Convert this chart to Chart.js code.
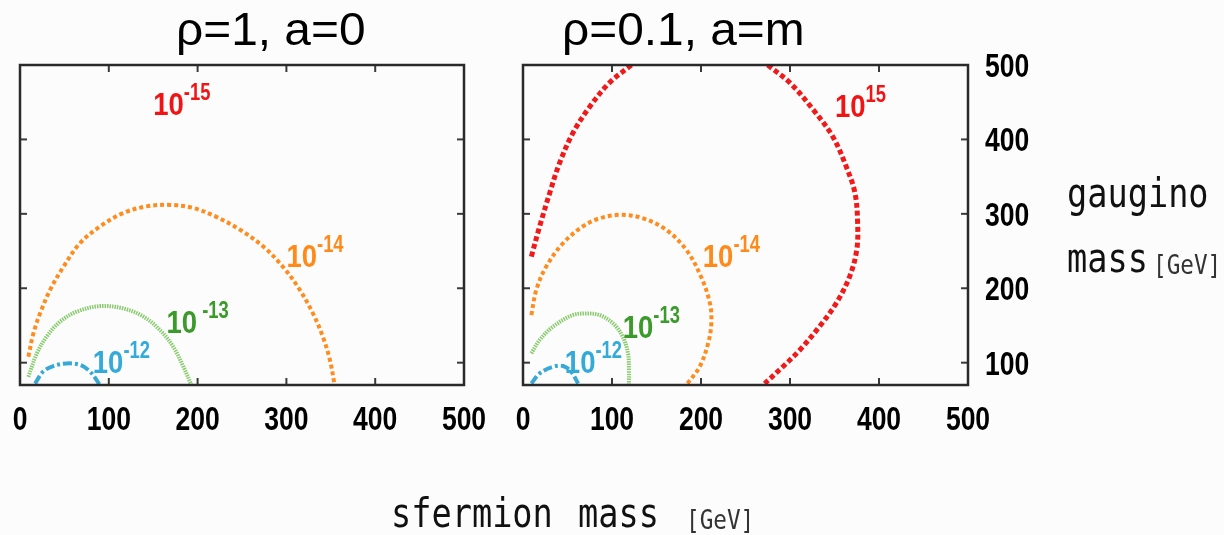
<!DOCTYPE html>
<html>
<head>
<meta charset="utf-8">
<script src="https://cdn.jsdelivr.net/npm/chart.js@4/dist/chart.umd.min.js"></script>
<style>
  html, body { margin:0; padding:0; background:#fcfcfc; width:1224px; height:535px; overflow:hidden; }
  .panel { position:absolute; top:0; height:535px; }
  .title { position:absolute; font-family:"Liberation Sans", Arial, sans-serif; font-size:46px; line-height:46px; color:#000; white-space:nowrap; transform-origin:0 0; }
  .mono { position:absolute; font-family:"DejaVu Sans Mono", monospace; font-size:40px; line-height:40px; color:#111; white-space:nowrap; transform-origin:0 0; transform:scaleX(0.84); }
  .unit { position:absolute; font-family:"DejaVu Sans Mono", monospace; font-size:27px; line-height:27px; color:#333; white-space:nowrap; transform-origin:0 0; transform:scaleX(0.84); }
</style>
</head>
<body>
<div class="panel" style="left:0;width:500px;"><canvas id="c1" width="500" height="535"></canvas></div>
<div class="panel" style="left:500px;width:724px;"><canvas id="c2" width="724" height="535"></canvas></div>
<div class="title" style="left:176px;top:6px;transform:scaleX(1.04);">ρ=1, a=0</div>
<div class="title" style="left:562px;top:6px;transform:scaleX(1.04);">ρ=0.1, a=m</div>
<div class="mono" style="left:1067px;top:173px;">gaugino</div>
<div class="mono" style="left:1067px;top:238px;">mass</div>
<div class="unit" style="left:1153px;top:251px;">[GeV]</div>
<div class="mono" style="left:391px;top:493px;">sfermion</div>
<div class="mono" style="left:578px;top:493px;">mass</div>
<div class="unit" style="left:686px;top:506px;">[GeV]</div>
<script>
// ---------- data ----------
const X_TICKS = [0, 100, 200, 300, 400, 500];
const Y_TICKS = [100, 200, 300, 400, 500];
const INNER_TICKS = [100, 200, 300, 400];

// Left panel: rho = 1, a = 0
const L14_X = [9.4, 15, 22.5, 34, 49, 67.5, 90, 116, 142.5, 169, 195, 221, 248, 274, 296, 315, 330, 341, 349, 354];
const L14_Y = [108, 139, 166, 198, 229, 260.5, 283, 301, 310, 312, 308, 296, 278.5, 256, 229, 198, 166, 135, 103.6, 72];
const L13_X = [9.4, 19, 30, 45, 64, 90, 116, 139, 157.5, 172.5, 184, 193];
const L13_Y = [81, 112.5, 135, 155, 168.6, 176, 173, 162, 144, 121.5, 94.6, 70];
const L12_X = [17, 26, 37.5, 52.5, 67.5, 79, 90];
const L12_Y = [72, 88, 95.5, 99, 97, 88, 70];

// Right panel: rho = 0.1, a = m
const R15A_X = [9.4, 18.7, 30, 41, 56, 75, 97, 122];
const R15A_Y = [242.6, 283, 328, 368, 408.5, 444, 476, 500];
const R15B_X = [275, 300, 326, 348, 363, 373, 376, 375, 367, 352, 333, 311, 292, 271.5];
const R15B_Y = [500, 476, 440, 404, 364, 328, 287.4, 251.6, 215.7, 180, 148.4, 117, 94.6, 72];
const R14_X = [9.4, 15, 26, 45, 67, 86, 110.5, 135, 161, 183.5, 200, 210, 211.6, 208, 198.5, 183.5];
const R14_Y = [164, 198, 229, 260.5, 283, 294, 298.7, 294, 278.5, 251.6, 215.7, 180, 153, 126, 94.6, 70];
const R13_X = [9.4, 18.7, 33.7, 56, 71, 86, 101, 112, 118, 119, 119];
const R13_Y = [112.5, 130.5, 148.4, 164, 166, 164, 153, 135, 112.5, 90, 70];
const R12_X = [9.4, 18.7, 33.7, 45, 54, 62];
const R12_Y = [72, 85.6, 94.6, 95.5, 88, 72];

// Contour labels: [mantissa, exponent, x, y, colour key] in data units
const LEFT_LABELS = [
  ['10', '-15', 150, 433, 'red'],
  ['10', '-14', 300, 229, 'orange'],
  ['10', ' -13', 165, 140, 'green'],
  ['10', '-12', 82, 86.6, 'cyan']
];
const RIGHT_LABELS = [
  ['10', '15', 350.5, 430, 'red'],
  ['10', '-14', 202, 229, 'orange'],
  ['10', '-13', 112, 133.5, 'green'],
  ['10', '-12', 47, 86.6, 'cyan']
];

// ---------- styles ----------
const LINE = {
  red:    { color:'#f01a1a', width:5, dash:[5,3] },
  orange: { color:'#ff8c1e', width:4, dash:[4,3] },
  green:  { color:'#8acb70', width:4, dash:[1.5,1] },
  cyan:   { color:'#38a9d6', width:4, dash:[9,3,3,3] }
};
const LABEL_COLOR = { red:'#f01414', orange:'#ff8a1a', green:'#3a9a2a', cyan:'#33aad8' };
const FONT = '"Liberation Sans", Arial, sans-serif';
const SQUEEZE = 0.78;
const LABEL_SQUEEZE = 0.86;

function pts(xs, ys) { return xs.map((x, i) => ({ x: x, y: ys[i] })); }
function ds(xs, ys, kind) {
  const s = LINE[kind];
  return { data: pts(xs, ys), showLine: true, pointRadius: 0, borderColor: s.color,
           borderWidth: s.width, borderDash: s.dash, borderCapStyle: 'butt',
           tension: 0.35, fill: false };
}

function narrowText(ctx, text, x, y, align, sq) {
  ctx.save();
  ctx.translate(x, y);
  ctx.scale(sq, 1);
  ctx.textAlign = align;
  ctx.fillText(text, 0, 0);
  const w = ctx.measureText(text).width * sq;
  ctx.restore();
  return w;
}

const framePlugin = {
  id: 'frame',
  afterDatasetsDraw(chart, args, opts) {
    const ctx = chart.ctx, a = chart.chartArea;
    const xs = chart.scales.x, ys = chart.scales.y;
    ctx.save();
    ctx.strokeStyle = '#3a3a3a';
    ctx.lineWidth = 2;
    ctx.setLineDash([]);
    INNER_TICKS.forEach(v => {
      const px = xs.getPixelForValue(v);
      ctx.beginPath(); ctx.moveTo(px, a.bottom); ctx.lineTo(px, a.bottom - 7); ctx.stroke();
      ctx.beginPath(); ctx.moveTo(px, a.top); ctx.lineTo(px, a.top + 7); ctx.stroke();
      const py = ys.getPixelForValue(v);
      ctx.beginPath(); ctx.moveTo(a.left, py); ctx.lineTo(a.left + 7, py); ctx.stroke();
      ctx.beginPath(); ctx.moveTo(a.right, py); ctx.lineTo(a.right - 7, py); ctx.stroke();
    });
    ctx.strokeStyle = '#2a2a2a';
    ctx.lineWidth = 2.5;
    ctx.strokeRect(a.left, a.top, a.right - a.left, a.bottom - a.top);

    // tick labels (from the scales' own ticks)
    ctx.fillStyle = '#000';
    ctx.textBaseline = 'alphabetic';
    ctx.font = 'bold 34px ' + FONT;
    xs.ticks.forEach(t => {
      narrowText(ctx, String(t.value), xs.getPixelForValue(t.value), a.bottom + 45, 'center', SQUEEZE);
    });
    if (opts.yLabels) {
      ys.ticks.forEach(t => {
        narrowText(ctx, String(t.value), a.right + 17, ys.getPixelForValue(t.value) + 12, 'left', SQUEEZE);
      });
    }

    // contour labels
    (opts.labels || []).forEach(l => {
      const px = xs.getPixelForValue(l[2]), py = ys.getPixelForValue(l[3]);
      ctx.fillStyle = LABEL_COLOR[l[4]];
      ctx.font = 'bold 32px ' + FONT;
      const w = narrowText(ctx, l[0], px, py, 'left', LABEL_SQUEEZE);
      ctx.font = 'bold 23px ' + FONT;
      narrowText(ctx, l[1], px + w, py - 15, 'left', 0.8);
    });
    ctx.restore();
  }
};

function xScale() {
  return {
    type: 'linear', min: 0, max: 500,
    afterBuildTicks: s => { s.ticks = X_TICKS.map(v => ({ value: v })); },
    afterFit: s => { s.height = 150; },
    grid: { display: false, drawTicks: false },
    border: { display: false },
    ticks: { display: false }
  };
}

const baseOpts = { responsive: false, animation: false, devicePixelRatio: 1 };

new Chart(document.getElementById('c1'), {
  type: 'scatter',
  data: { datasets: [ ds(L14_X, L14_Y, 'orange'), ds(L13_X, L13_Y, 'green'), ds(L12_X, L12_Y, 'cyan') ] },
  options: Object.assign({}, baseOpts, {
    layout: { padding: { left: 20, top: 65, right: 36, bottom: 0 } },
    plugins: { legend: { display: false }, tooltip: { enabled: false }, frame: { labels: LEFT_LABELS, yLabels: false } },
    scales: {
      x: xScale(),
      y: { type: 'linear', min: 70, max: 500, display: false }
    }
  }),
  plugins: [framePlugin]
});

new Chart(document.getElementById('c2'), {
  type: 'scatter',
  data: { datasets: [ ds(R15A_X, R15A_Y, 'red'), ds(R15B_X, R15B_Y, 'red'), ds(R14_X, R14_Y, 'orange'),
                      ds(R13_X, R13_Y, 'green'), ds(R12_X, R12_Y, 'cyan') ] },
  options: Object.assign({}, baseOpts, {
    layout: { padding: { left: 23, top: 65, right: 0, bottom: 0 } },
    plugins: { legend: { display: false }, tooltip: { enabled: false }, frame: { labels: RIGHT_LABELS, yLabels: true } },
    scales: {
      x: xScale(),
      y: {
        type: 'linear', position: 'right', min: 70, max: 500,
        afterBuildTicks: s => { s.ticks = Y_TICKS.map(v => ({ value: v })); },
        afterFit: s => { s.width = 256; },
        grid: { display: false, drawTicks: false },
        border: { display: false },
        ticks: { display: false }
      }
    }
  }),
  plugins: [framePlugin]
});
</script>
</body>
</html>
